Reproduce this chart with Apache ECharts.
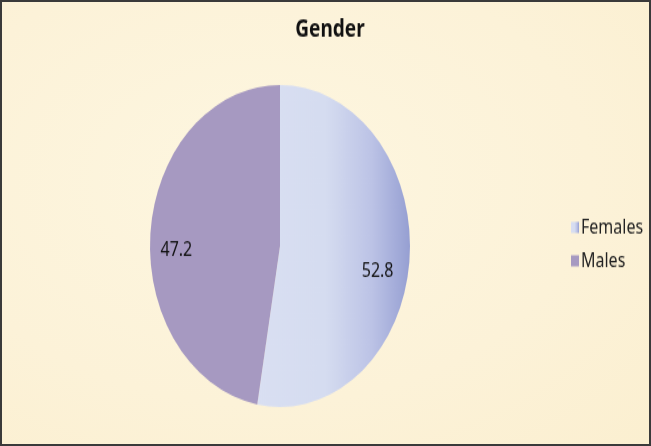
<!DOCTYPE html>
<html>
<head>
<meta charset="utf-8">
<script src="https://cdn.jsdelivr.net/npm/echarts@6/dist/echarts.min.js"></script>
<style>
  html, body { margin: 0; padding: 0; }
  #frame {
    width: 651px; height: 446px; box-sizing: border-box;
    border: 2px solid #3a3a3a; overflow: hidden;
    background: radial-gradient(ellipse at 40% 40%, #fdf6e0 0%, #fcf2d8 60%, #fbefd0 100%);
  }
  /* the source picture is stretched vertically, so the whole chart is too */
  #chart { width: 647px; height: 357px; transform: scaleY(1.2385); transform-origin: 0 0; }
</style>
</head>
<body>
<div id="frame"><div id="chart"></div></div>
<script>
  var categories = ['Females', 'Males'];
  var values = [52.8, 47.2];

  var colors = [
    new echarts.graphic.LinearGradient(0, 0, 1, 0, [
      { offset: 0, color: '#d9dff2' },
      { offset: 0.45, color: '#d5dcf0' },
      { offset: 0.75, color: '#bcc3e6' },
      { offset: 1, color: '#969fd2' }
    ]),
    '#a699c1'
  ];

  var pieData = categories.map(function (name, i) {
    return { name: name, value: values[i], itemStyle: { color: colors[i] } };
  });

  var chart = echarts.init(document.getElementById('chart'));
  chart.setOption({
    animation: false,
    title: {
      text: 'Gender', left: 323, top: 8, textAlign: 'center',
      textStyle: { fontFamily: 'Noto Sans', fontSize: 19, fontWeight: 'bold', color: '#111' }
    },
    legend: {
      orient: 'vertical', left: 564, top: 169, icon: 'rect', itemWidth: 8, itemHeight: 9, itemGap: 11,
      data: categories,
      textStyle: { fontFamily: 'Noto Sans', fontSize: 16, color: '#222', padding: [0, 0, 0, -3] }
    },
    series: [
      {
        type: 'pie', center: [278, 197], radius: 130, startAngle: 90, clockwise: true,
        data: pieData, label: { show: false }, labelLine: { show: false }, silent: true
      },
      {
        // transparent copy only used to place the value labels further out
        type: 'pie', center: [275, 209], radius: 196, startAngle: 90, clockwise: true,
        data: categories.map(function (name, i) { return { name: name, value: values[i] }; }),
        itemStyle: { color: 'rgba(0,0,0,0)' }, silent: true, legendHoverLink: false,
        label: {
          show: true, position: 'inside', formatter: '{c}',
          fontFamily: 'Noto Sans', fontSize: 16, color: '#111'
        },
        labelLine: { show: false }
      }
    ]
  });
</script>
</body>
</html>
